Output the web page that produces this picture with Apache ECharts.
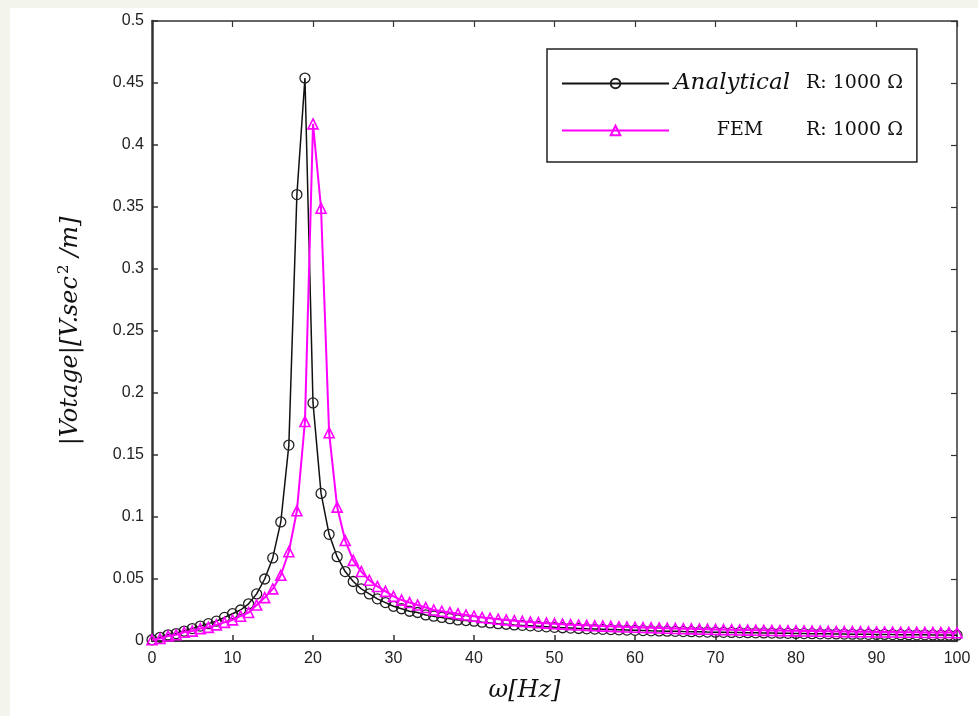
<!DOCTYPE html>
<html>
<head>
<meta charset="utf-8">
<script src="https://cdn.jsdelivr.net/npm/echarts@6/dist/echarts.min.js"></script>
<style>
  html, body { margin: 0; padding: 0; background: #f3f4ec; }
  #main { width: 978px; height: 716px; }
</style>
</head>
<body>
<div id="main"></div>
<script>
(function () {
  var myChart = echarts.init(document.getElementById('main'))

  // frequency in Hz (x axis)
  var freqHz = [
    0, 1, 2, 3, 4, 5, 6, 7, 8, 9,
    10, 11, 12, 13, 14, 15, 16, 17, 18, 19,
    20, 21, 22, 23, 24, 25, 26, 27, 28, 29,
    30, 31, 32, 33, 34, 35, 36, 37, 38, 39,
    40, 41, 42, 43, 44, 45, 46, 47, 48, 49,
    50, 51, 52, 53, 54, 55, 56, 57, 58, 59,
    60, 61, 62, 63, 64, 65, 66, 67, 68, 69,
    70, 71, 72, 73, 74, 75, 76, 77, 78, 79,
    80, 81, 82, 83, 84, 85, 86, 87, 88, 89,
    90, 91, 92, 93, 94, 95, 96, 97, 98, 99,
    100
  ]
  // Analytical, R: 1000 Ω
  var analytical = [
    0.001, 0.003, 0.005, 0.006, 0.008, 0.010, 0.012, 0.014, 0.016, 0.019,
    0.022, 0.025, 0.030, 0.038, 0.050, 0.067, 0.096, 0.158, 0.360, 0.454,
    0.192, 0.119, 0.086, 0.068, 0.056, 0.048, 0.042, 0.038, 0.034, 0.031,
    0.028, 0.026, 0.024, 0.023, 0.021, 0.020, 0.019, 0.018, 0.017, 0.0165,
    0.016, 0.0152, 0.0146, 0.014, 0.0135, 0.013, 0.0126, 0.0122, 0.0118, 0.0114,
    0.011, 0.0107, 0.0104, 0.0101, 0.0098, 0.0096, 0.0094, 0.0092, 0.009, 0.0088,
    0.0086, 0.0084, 0.0082, 0.0081, 0.0079, 0.0078, 0.0076, 0.0075, 0.0074, 0.0072,
    0.0071, 0.007, 0.0069, 0.0068, 0.0067, 0.0066, 0.0065, 0.0064, 0.0063, 0.0062,
    0.0061, 0.006, 0.0059, 0.0058, 0.0058, 0.0057, 0.0056, 0.0055, 0.0055, 0.0054,
    0.0053, 0.0053, 0.0052, 0.0051, 0.0051, 0.005, 0.005, 0.0049, 0.0048, 0.0048,
    0.0047
  ]
  // FEM, R: 1000 Ω
  var fem = [
    0.001, 0.002, 0.004, 0.005, 0.007, 0.008, 0.010, 0.011, 0.013, 0.015,
    0.017, 0.020, 0.023, 0.029, 0.035, 0.042, 0.053, 0.072, 0.105, 0.177,
    0.417, 0.349, 0.168, 0.108, 0.081, 0.065, 0.056, 0.049, 0.044, 0.040,
    0.036, 0.033, 0.031, 0.029, 0.027, 0.025, 0.024, 0.023, 0.022, 0.021,
    0.020, 0.019, 0.0183, 0.0176, 0.017, 0.0164, 0.0158, 0.0153, 0.0148, 0.0144,
    0.014, 0.0136, 0.0132, 0.0129, 0.0126, 0.0123, 0.012, 0.0118, 0.0115, 0.0113,
    0.0111, 0.0109, 0.0107, 0.0105, 0.0103, 0.0101, 0.0099, 0.0098, 0.0096, 0.0095,
    0.0093, 0.0092, 0.0091, 0.0089, 0.0088, 0.0087, 0.0086, 0.0085, 0.0084, 0.0083,
    0.0082, 0.0081, 0.008, 0.0079, 0.0078, 0.0077, 0.0076, 0.0076, 0.0075, 0.0074,
    0.0073, 0.0073, 0.0072, 0.0071, 0.0071, 0.007, 0.0069, 0.0069, 0.0068, 0.0068,
    0.0067
  ]

  function pairs(ys) {
    return ys.map(function (v, i) { return [freqHz[i], v] })
  }

  var axisColor = '#333'
  var tickFont = { color: '#222', fontSize: 16, fontFamily: 'Liberation Sans, Arial, sans-serif' }

  var option = {
    backgroundColor: '#f3f4ec',
    animation: false,
    graphic: [{
      type: 'rect',
      z: -10,
      shape: { x: 10, y: 8, width: 968, height: 708 },
      style: { fill: '#ffffff' }
    }],
    grid: { left: 152, right: 21, top: 21, bottom: 75 },
    legend: {
      orient: 'vertical',
      left: 547,
      top: 49,
      padding: [23, 14, 22, 14],
      itemGap: 26,
      itemWidth: 107,
      itemHeight: 12,
      borderColor: '#222',
      borderWidth: 1.5,
      backgroundColor: '#fff',
      data: ['Analytical', 'FEM'],
      formatter: function (name) {
        if (name === 'Analytical') return '{a|Analytical}{b|R: 1000 Ω}'
        return '{c|FEM}{b|R: 1000 Ω}'
      },
      textStyle: {
        rich: {
          a: { fontFamily: 'DejaVu Serif', fontStyle: 'italic', fontSize: 23, color: '#111', width: 132 },
          b: { fontFamily: 'DejaVu Serif', fontSize: 19, color: '#111' },
          c: { fontFamily: 'DejaVu Serif', fontSize: 19, color: '#111', width: 132, align: 'center' }
        }
      }
    },
    xAxis: [{
      type: 'value',
      min: 0, max: 100, interval: 10,
      name: 'ω[Hz]',
      nameLocation: 'middle',
      nameGap: 38,
      nameTextStyle: { fontFamily: 'DejaVu Serif', fontStyle: 'italic', fontSize: 24, color: '#111', padding: [0, 60, 0, 0] },
      axisLine: { onZero: false, lineStyle: { color: axisColor, width: 2 } },
      axisTick: { inside: true, length: 6, lineStyle: { color: axisColor, width: 1.5 } },
      axisLabel: Object.assign({ margin: 10 }, tickFont),
      splitLine: { show: false }
    }, {
      type: 'value',
      position: 'top',
      min: 0, max: 100, interval: 10,
      axisLine: { onZero: false, lineStyle: { color: axisColor, width: 1.5 } },
      axisTick: { inside: true, length: 6, lineStyle: { color: axisColor, width: 1.2 } },
      axisLabel: { show: false },
      splitLine: { show: false }
    }],
    yAxis: [{
      type: 'value',
      min: 0, max: 0.5, interval: 0.05,
      name: '{i||Votage|[V.sec}{s|2}{i| /m]}',
      nameLocation: 'middle',
      nameGap: 68,
      nameTextStyle: {
        color: '#111',
        rich: {
          i: { fontFamily: 'DejaVu Serif', fontStyle: 'italic', fontSize: 24, color: '#111' },
          s: { fontFamily: 'DejaVu Serif', fontSize: 15, color: '#111', verticalAlign: 'top', padding: [0, 0, 12, 2] }
        }
      },
      axisLine: { onZero: false, lineStyle: { color: axisColor, width: 2.5 } },
      axisTick: { inside: true, length: 6, lineStyle: { color: axisColor, width: 1.5 } },
      axisLabel: Object.assign({ margin: 8 }, tickFont),
      splitLine: { show: false }
    }, {
      type: 'value',
      position: 'right',
      min: 0, max: 0.5, interval: 0.05,
      axisLine: { onZero: false, lineStyle: { color: axisColor, width: 1.5 } },
      axisTick: { inside: true, length: 6, lineStyle: { color: axisColor, width: 1.2 } },
      axisLabel: { show: false },
      splitLine: { show: false }
    }],
    series: [{
      name: 'Analytical',
      type: 'line',
      data: pairs(analytical),
      symbol: 'circle',
      symbolSize: 10,
      showAllSymbol: true,
      lineStyle: { color: '#111', width: 1.5 },
      itemStyle: { color: 'rgba(0,0,0,0)', borderColor: '#222', borderWidth: 1.3 },
      z: 2
    }, {
      name: 'FEM',
      type: 'line',
      data: pairs(fem),
      symbol: 'triangle',
      symbolSize: 10,
      showAllSymbol: true,
      lineStyle: { color: '#ff00ff', width: 2 },
      itemStyle: { color: 'rgba(255,0,255,0)', borderColor: '#ff00ff', borderWidth: 1.6 },
      z: 3
    }]
  }
  myChart.setOption(option)
})()
</script>
</body>
</html>
